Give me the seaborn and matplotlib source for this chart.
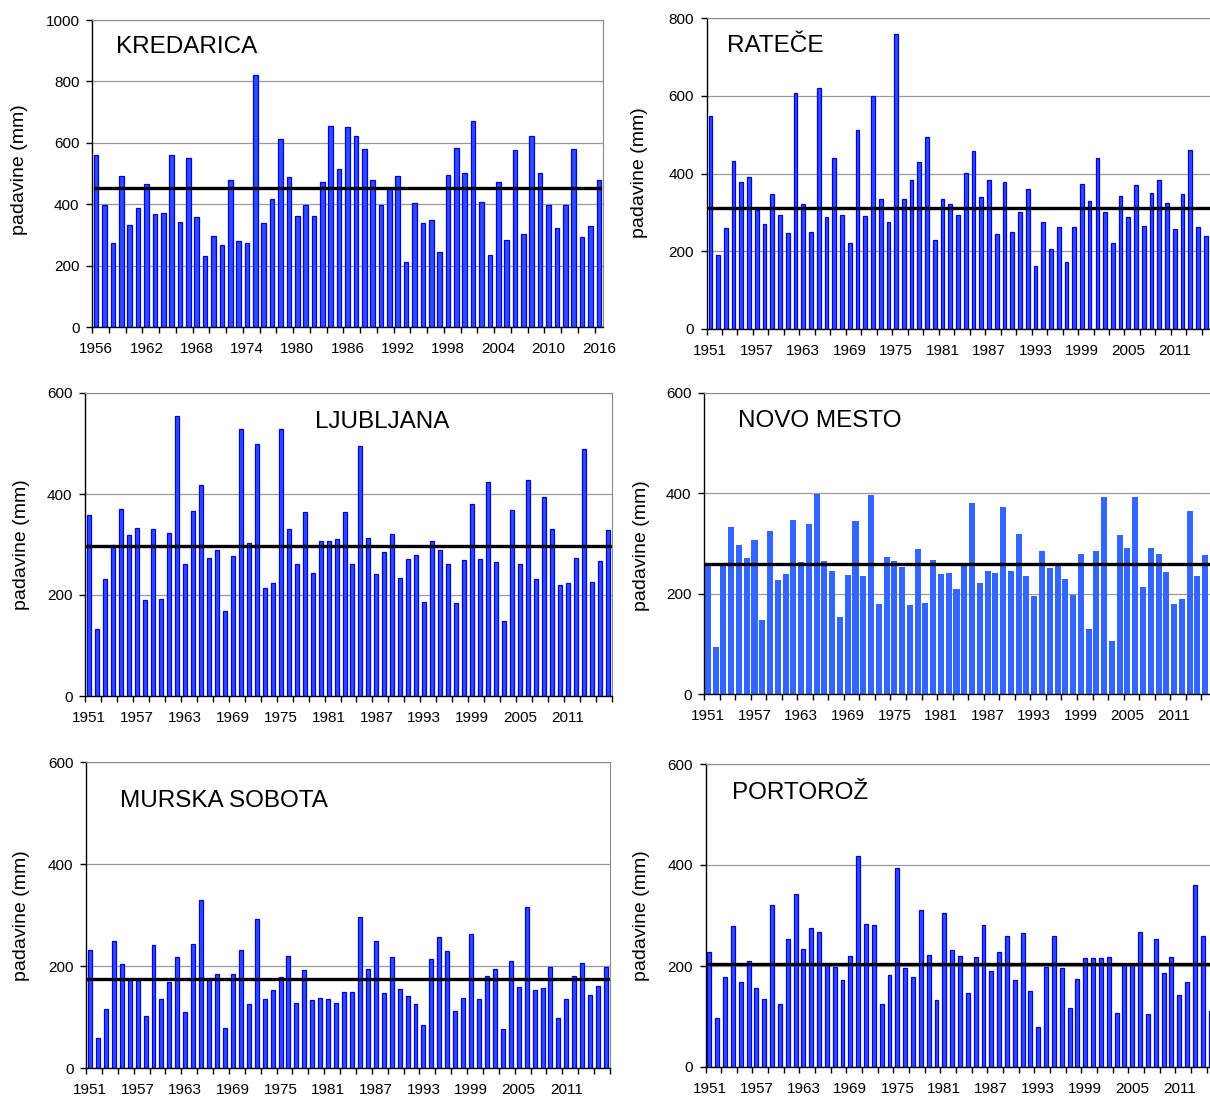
import matplotlib
matplotlib.use('Agg')
import numpy as np
import matplotlib.pyplot as plt
import seaborn as sns

# Leta
leta_kredarica = list(range(1956, 2017))
leta_levo = list(range(1951, 2017))
leta_desno = list(range(1951, 2016))  # 2016 je odrezano na desni

# Padavine (mm)
kredarica = [559, 399, 275, 491, 332, 387, 467, 367, 372, 559, 342, 551, 357, 232, 297, 267,
             479, 279, 275, 822, 340, 416, 611, 487, 360, 396, 363, 472, 654, 515, 650,
             623, 579, 479, 396, 449, 491, 212, 403, 340, 347, 243, 495, 583, 503, 670,
             407, 236, 472, 282, 575, 303, 623, 503, 396, 324, 396, 579, 292, 328, 479]
ratece = [548, 191, 259, 433, 377, 392, 306, 269, 347, 294, 247, 606, 322, 250, 621, 288,
          439, 294, 222, 512, 290, 600, 334, 276, 760, 334, 384, 429, 494, 228, 334, 322,
          294, 401, 458, 339, 383, 244, 379, 250, 300, 361, 163, 276, 207, 263, 173, 263,
          374, 330, 439, 300, 222, 342, 288, 371, 265, 349, 383, 324, 257, 346, 461, 263, 240]
ljubljana = [359, 133, 232, 299, 371, 318, 332, 190, 330, 193, 323, 555, 262, 366, 417, 274,
             289, 169, 277, 528, 303, 499, 214, 224, 528, 330, 262, 364, 243, 307, 307, 311,
             364, 262, 496, 313, 241, 285, 320, 234, 272, 280, 186, 307, 289, 261, 184, 270,
             381, 272, 424, 265, 149, 369, 262, 427, 232, 395, 330, 220, 224, 274, 489, 226,
             268, 328]
novo_mesto = [258, 93, 256, 332, 297, 272, 306, 147, 325, 228, 240, 347, 264, 338, 399, 266,
              245, 154, 238, 345, 236, 397, 180, 273, 266, 253, 178, 290, 182, 268, 240, 242,
              209, 260, 380, 222, 245, 242, 373, 245, 318, 235, 195, 286, 252, 256, 230, 197,
              280, 130, 286, 392, 105, 316, 292, 392, 214, 292, 280, 244, 180, 190, 364, 235, 278]
murska_sobota = [232, 59, 116, 250, 204, 175, 175, 101, 242, 135, 169, 218, 109, 244, 330, 175,
                 185, 78, 185, 232, 126, 292, 135, 152, 178, 220, 128, 192, 133, 137, 135, 128,
                 150, 150, 297, 195, 249, 147, 218, 154, 142, 126, 85, 213, 256, 230, 111, 137,
                 263, 135, 180, 195, 76, 210, 159, 316, 152, 156, 199, 99, 135, 180, 206, 144,
                 161, 199]
portoroz = [227, 97, 178, 279, 168, 210, 156, 135, 320, 125, 253, 343, 234, 275, 267, 206,
            199, 172, 220, 417, 283, 282, 125, 182, 395, 196, 178, 310, 222, 132, 305, 232,
            220, 146, 218, 282, 191, 227, 260, 172, 265, 151, 80, 199, 260, 196, 116, 175,
            215, 215, 215, 218, 106, 201, 201, 267, 104, 253, 187, 218, 142, 168, 360, 260, 111]

# Povprecje obdobja (vodoravna crta)
povprecja = {'KREDARICA': 454, 'RATEČE': 312, 'LJUBLJANA': 297,
             'NOVO MESTO': 260, 'MURSKA SOBOTA': 175, 'PORTOROŽ': 203}

W, H = 1210, 1097
plt.rcParams['font.family'] = ['Liberation Sans', 'DejaVu Sans']
fig = plt.figure(figsize=(W / 100, H / 100), dpi=100)


def os_px(levo, desno, zgoraj, spodaj):
    return fig.add_axes([levo / W, 1 - spodaj / H, (desno - levo) / W, (spodaj - zgoraj) / H])


def graf(ax, leta, vrednosti, ime, ymax, n_kat, sirina=0.5, barva='#2E4CFF', rob='#0000DD', lw=0.9):
    sns.barplot(x=leta, y=vrednosti, ax=ax, color=barva, saturation=1, width=sirina,
                edgecolor=rob, linewidth=lw)
    n = len(vrednosti)
    ax.set_xlim(-0.5, n_kat - 0.5)
    ax.set_ylim(0, ymax)
    ax.set_yticks(np.arange(0, ymax + 1, 200))
    ax.yaxis.grid(True, color='#9a9a9a', linewidth=0.9)
    ax.set_axisbelow(True)
    # povprecje
    konec = n - 0.8 if n == n_kat else n_kat
    ax.plot([-0.2, konec], [povprecja[ime]] * 2, color='black', lw=2.4, zorder=5)
    # oznake let vsakih 6 let
    ax.set_xticks(range(0, n_kat, 6))
    ax.set_xticklabels([str(leta[0] + i) for i in range(0, n_kat, 6)], fontsize=11)
    ax.set_xticks(np.arange(-0.5, n_kat, 2), minor=True)
    ax.tick_params(axis='x', which='major', length=0, pad=11)
    ax.tick_params(axis='x', which='minor', length=4.5, width=1, direction='out')
    ax.tick_params(axis='y', length=4, width=1, direction='out', labelsize=11, pad=5)
    ax.set_xlabel('')
    ax.set_ylabel('')
    for s in ['top', 'right']:
        ax.spines[s].set_color('#8a8a8a')
    for s in ['left', 'bottom']:
        ax.spines[s].set_color('black')
        ax.spines[s].set_linewidth(1)


def naslov(ime, x, y):
    fig.text(x / W, 1 - y / H, ime, fontsize=17.5, ha='left', va='baseline')


def oznaka_y(x, y):
    fig.text(x / W, 1 - y / H, 'padavine (mm)', fontsize=14, rotation=90, ha='center', va='center')


ax1 = os_px(92, 603, 20, 327)
graf(ax1, leta_kredarica, kredarica, 'KREDARICA', 1000, 61, sirina=0.55)
naslov('KREDARICA', 116, 53)
oznaka_y(20, 170)

ax2 = os_px(706.5, 706.5 + 66 * 7.74, 18, 329)
graf(ax2, leta_desno, ratece, 'RATEČE', 800, 66, sirina=0.48)
naslov('RATEČE', 727, 52)
oznaka_y(640, 173)

ax3 = os_px(85, 612, 393, 696)
graf(ax3, leta_levo, ljubljana, 'LJUBLJANA', 600, 66, sirina=0.5)
naslov('LJUBLJANA', 315, 428)
oznaka_y(22, 545)

ax4 = os_px(704, 704 + 66 * 7.77, 393, 694)
graf(ax4, leta_desno, novo_mesto, 'NOVO MESTO', 600, 66, sirina=0.78, barva='#3366FF',
     rob='#3366FF', lw=0)
naslov('NOVO MESTO', 738, 427)
oznaka_y(641, 546)

ax5 = os_px(86, 610, 762, 1068)
graf(ax5, leta_levo, murska_sobota, 'MURSKA SOBOTA', 600, 66, sirina=0.5)
naslov('MURSKA SOBOTA', 120, 807)
oznaka_y(22, 916)

ax6 = os_px(705.5, 705.5 + 66 * 7.83, 764, 1067)
graf(ax6, leta_desno, portoroz, 'PORTOROŽ', 600, 66, sirina=0.5)
naslov('PORTOROŽ', 732, 799)
oznaka_y(641, 916)

fig.savefig('out.png', dpi=100)
